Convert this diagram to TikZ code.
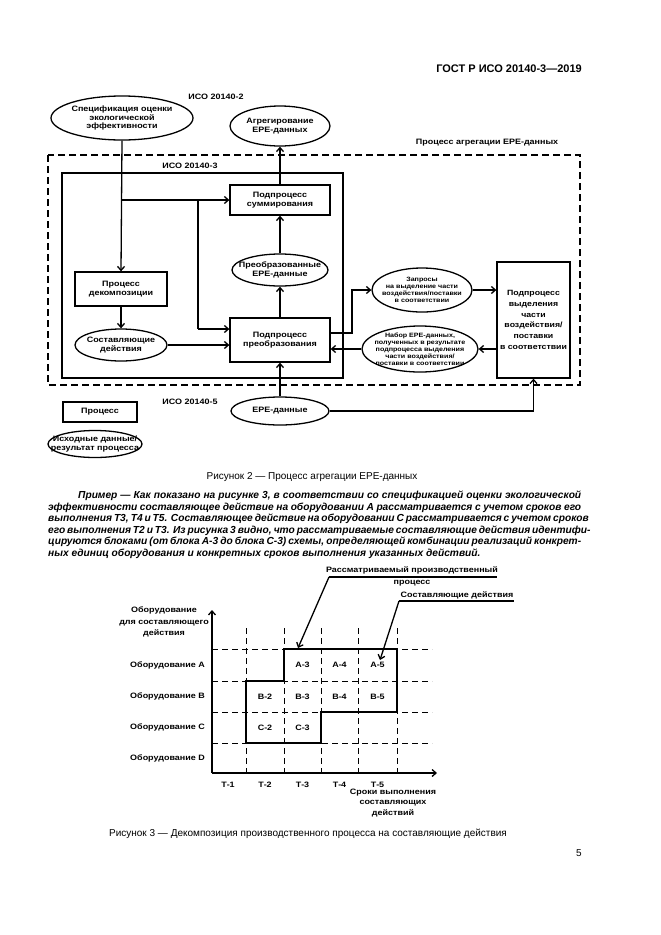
\documentclass[tikz,border=0pt]{standalone}
\usepackage{fontspec}
\setmainfont{Liberation Sans}
\newfontfamily\dfam[FakeStretch=1.15]{Liberation Sans}
\usetikzlibrary{arrows.meta,shapes.geometric,calc}
\newcommand\dfont{\dfam\bfseries\fontsize{7.8}{8.8}\selectfont}
\newcommand\sfontx{\dfam\bfseries\fontsize{6.2}{7.1}\selectfont}
\newcommand\pfont{\bfseries\itshape\fontsize{10.2}{12}\selectfont}
\newcommand\cfont{\fontsize{10}{12}\selectfont}
\begin{document}
\begin{tikzpicture}[x=1pt,y=-1pt,
  lw/.style={line width=1.3pt},
  arr/.style={lw,-{Straight Barb[length=4pt,width=7pt,line width=1.3pt]}},
  proc/.style={draw,lw,rectangle,inner sep=1pt,align=center,font=\dfont},
  ell/.style={draw,lw,ellipse,inner sep=0pt},
  lbl/.style={font=\dfont,inner sep=0pt,align=center},
  slbl/.style={font=\sfontx,inner sep=0pt,align=center},
  grid/.style={line width=1pt,dash pattern=on 6pt off 4pt},
  thickline/.style={line width=2.6pt,line join=miter},
  para/.style={font=\pfont,inner sep=0pt,anchor=base west},
]
\useasboundingbox (0,0) rectangle (661,935);
% header
\node[font=\bfseries\fontsize{11}{13}\selectfont,anchor=east,inner sep=0pt] (hdr) at (582,69) {ГОСТ Р ИСО 20140-3—2019};

% ---------- Figure 2 ----------
\node[lbl] (iso2) at (216,97) {ИСО 20140-2};
\node[ell,minimum width=142pt,minimum height=44pt] (spec) at (122,118) {};
\node[lbl] (spect) at (spec) {Спецификация оценки\\экологической\\эффективности};
\node[ell,minimum width=100pt,minimum height=40pt] (agg) at (280,126) {};
\node[lbl] (aggt) at (agg) {Агрегирование\\ЕРЕ-данных};
\node[lbl] (proclbl) at (487,143) {Процесс агрегации ЕРЕ-данных};
\draw[lw,dash pattern=on 7pt off 4pt] (48,155) rectangle (580,385);
\node[lbl] (iso3) at (190,166) {ИСО 20140-3};
\draw[lw] (62,173) rectangle (343,378);

\node[proc,minimum width=100pt,minimum height=30pt] (summ) at (280,200) {Подпроцесс\\суммирования};
\node[ell,minimum width=96pt,minimum height=32pt] (trans) at (280,270) {};
\node[lbl] (transt) at (trans) {Преобразованные\\ЕРЕ-данные};
\node[proc,minimum width=100pt,minimum height=44pt] (preob) at (280,340) {Подпроцесс\\преобразования};
\node[proc,minimum width=92pt,minimum height=34pt] (decomp) at (121,289) {Процесс\\декомпозиции};
\node[ell,minimum width=92pt,minimum height=32pt] (sost) at (121,345) {};
\node[lbl] (sostt) at (sost) {Составляющие\\действия};
\node[ell,minimum width=100pt,minimum height=44pt] (zapros) at (422,290) {};
\node[slbl] (zaprost) at (zapros) {Запросы\\на выделение части\\воздействия/поставки\\в соответствии};
\node[proc,minimum width=73pt,minimum height=116pt,font=\dfam\bfseries\fontsize{7.6}{10.8}\selectfont] (big) at (533.5,320) {Подпроцесс\\выделения\\части\\воздействия/\\поставки\\в соответствии};
\node[ell,minimum width=116pt,minimum height=46pt] (nabor) at (420,349) {};
\node[slbl] (nabort) at (nabor) {Набор ЕРЕ-данных,\\полученных в результате\\подпроцесса выделения\\части воздействия/\\поставки в соответствии};
\node[lbl] (iso5) at (190,402) {ИСО 20140-5};
\node[ell,minimum width=98pt,minimum height=28pt] (epe) at (280,411) {};
\node[lbl] (epet) at (epe) {ЕРЕ-данные};
% legend
\node[proc,minimum width=74pt,minimum height=20pt] (legbox) at (100,412) {Процесс};
\node[ell,minimum width=94pt,minimum height=27pt] (legell) at (95,444) {};
\node[lbl] (legellt) at (legell) {Исходные данные/\\результат процесса};

% connectors
\coordinate (j1) at (spec.south |- summ.west);
\coordinate (j2) at (198,200);
\draw[arr] (spec.south) -- (decomp.north);
\draw[arr] (j1) -- (summ.west);
\draw[lw] (j2) -- (198,329);
\draw[arr] (198,329) -- (preob.west |- 0,329);
\draw[arr] (sost.east) -- (sost.east -| preob.west);
\draw[arr] (decomp.south) -- (sost.north);
\draw[arr] (preob.north) -- (trans.south);
\draw[arr] (trans.north) -- (summ.south);
\draw[arr] (summ.north) -- (agg.south);
\draw[arr] (preob.east |- 0,333) -- (352,333) -- (352,290) -- (zapros.west);
\draw[arr] (zapros.east) -- (zapros.east -| big.west);
\draw[arr] (big.west |- nabor.east) -- (nabor.east);
\draw[arr] (nabor.west) -- (nabor.west -| preob.east);
\draw[arr] (epe.north) -- (preob.south);
\draw[arr] (epe.east) -- (big.south |- epe.east) -- (big.south);

\node[font=\cfont,anchor=base,inner sep=0pt] (cap2) at (312,479) {Рисунок 2 — Процесс агрегации ЕРЕ-данных};

% paragraph
\node[para] (p1) at (78,498.5) {\hbox to 503pt{Пример — Как показано на рисунке 3, в соответствии со спецификацией оценки экологической}};
\node[para] (p2) at (48,510) {\hbox to 533pt{эффективности составляющее действие на оборудовании А рассматривается с учетом сроков его}};
\node[para] (p3) at (48,521.5) {\hbox to 533pt{выполнения Т3, Т4 и Т5. Составляющее действие на оборудовании С рассматривается с учетом сроков}};
\node[para] (p4) at (48,533) {\hbox to 533pt{его выполнения Т2 и Т3. Из рисунка 3 видно, что рассматриваемые составляющие действия идентифи-}};
\node[para] (p5) at (48,544.5) {\hbox to 533pt{цируются блоками (от блока А-3 до блока С-3) схемы, определяющей комбинации реализаций конкрет-}};
\node[para] (p6) at (48,556) {ных единиц оборудования и конкретных сроков выполнения указанных действий.};

% ---------- Figure 3 ----------
\foreach \x in {246,284,321,358,397} \draw[grid] (\x,628) -- (\x,773);
\foreach \y in {649,681,712,743} \draw[grid] (212,\y) -- (432,\y);
\coordinate (org) at (212,773);
\coordinate (ytip) at (212,610);
\coordinate (xtip) at (437,773);
\draw[arr] (org) -- (ytip);
\draw[arr] (org) -- (xtip);
\draw[thickline] (284,649) -- (397,649) -- (397,712) -- (321,712) -- (321,743) -- (246,743) -- (246,681) -- (284,681) -- cycle;

\node[lbl,font=\dfam\bfseries\fontsize{7.8}{11.5}\selectfont] (ylab) at (164,622) {Оборудование\\для составляющего\\действия};
\node[lbl,anchor=east] (rA) at (205,665) {Оборудование А};
\node[lbl,anchor=east] (rB) at (205,696.5) {Оборудование В};
\node[lbl,anchor=east] (rC) at (205,727.5) {Оборудование С};
\node[lbl,anchor=east] (rD) at (205,758) {Оборудование D};

\node[lbl] (a3) at (302.5,665) {А-3};
\node[lbl] (a4) at (339.5,665) {А-4};
\node[lbl] (a5) at (377.5,665) {А-5};
\node[lbl] (b2) at (265,696.5) {В-2};
\node[lbl] (b3) at (302.5,696.5) {В-3};
\node[lbl] (b4) at (339.5,696.5) {В-4};
\node[lbl] (b5) at (377.5,696.5) {В-5};
\node[lbl] (c2) at (265,727.5) {С-2};
\node[lbl] (c3) at (302.5,727.5) {С-3};

\node[lbl] (t1) at (228,785) {Т-1};
\node[lbl] (t2) at (265,785) {Т-2};
\node[lbl] (t3) at (302.5,785) {Т-3};
\node[lbl] (t4) at (339.5,785) {Т-4};
\node[lbl] (t5) at (377.5,785) {Т-5};
\node[lbl,font=\dfam\bfseries\fontsize{7.8}{10.5}\selectfont] (xlab) at (393,803) {Сроки выполнения\\составляющих\\действий};

% callouts
\node[lbl,font=\dfam\bfseries\fontsize{7.8}{12}\selectfont] (co1) at (412,576) {Рассматриваемый производственный\\процесс};
\coordinate (u1a) at (329,577);
\coordinate (u1b) at (497,577);
\draw[lw] (u1a) -- (u1b);
\coordinate (tip1) at (298,648);
\draw[arr] (u1a) -- (tip1);
\node[lbl,anchor=south] (co2) at (457,599) {Составляющие действия};
\coordinate (u2a) at (399,601);
\coordinate (u2b) at (514,601);
\draw[lw] (u2a) -- (u2b);
\coordinate (tip2) at (380,660);
\draw[arr] (u2a) -- (tip2);

\node[font=\cfont,anchor=base,inner sep=0pt] (cap3) at (308,836) {Рисунок 3 — Декомпозиция производственного процесса на составляющие действия};
\node[font=\cfont,anchor=base east,inner sep=0pt] (pg) at (582,856) {5};
\end{tikzpicture}
\end{document}
